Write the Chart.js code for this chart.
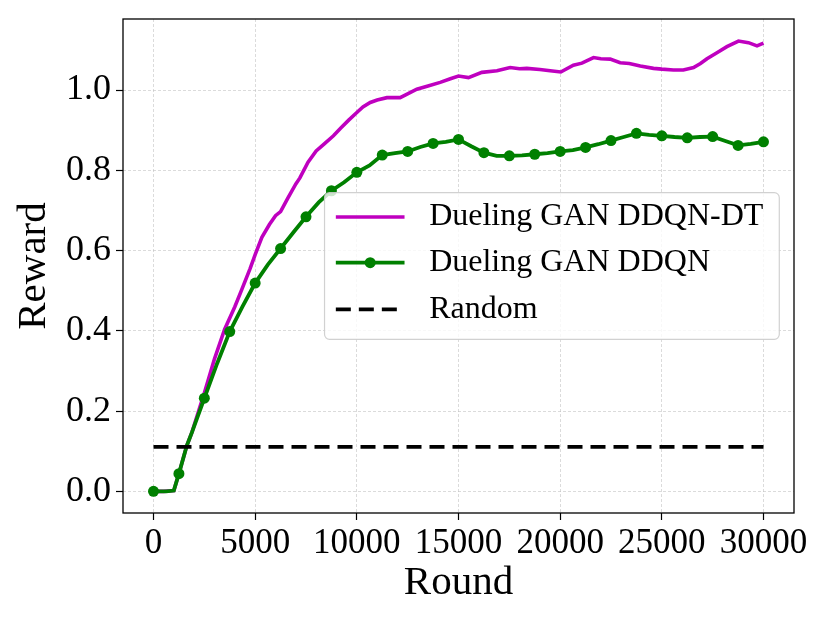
<!DOCTYPE html>
<html>
<head>
<meta charset="utf-8">
<script src="https://cdn.jsdelivr.net/npm/chart.js@4/dist/chart.umd.min.js"></script>
<style>
  html, body { margin: 0; padding: 0; background: #ffffff; }
  #wrap { width: 830px; height: 623px; }
</style>
</head>
<body>
<div id="wrap"><canvas id="rewardChart" width="830" height="623"></canvas></div>
<script>
// tick values
const xTicks = [0, 5000, 10000, 15000, 20000, 25000, 30000];
const yTicks = [0.0, 0.2, 0.4, 0.6, 0.8, 1.0];

// Dueling GAN DDQN-DT
const dtRounds = [0, 500, 1000, 1250, 1640, 1890, 2250, 2500, 3000, 3500, 4000, 4350, 4750, 5000,
    5330, 5700, 6000, 6250, 6600, 7000, 7200, 7600, 8000, 8400, 8850, 9200, 9600, 10000,
    10300, 10660, 11000, 11480, 12130, 12400, 12950, 13500, 14100, 14600, 15000, 15490,
    16150, 16890, 17540, 18000, 18360, 19000, 19510, 20030, 20650, 21070, 21640, 22000,
    22460, 22950, 23400, 23940, 24590, 25000, 25570, 26060, 26560, 26900, 27220, 27710,
    28200, 28770, 29260, 29680, 30000];
const dtReward = [0.0, 0.0, 0.002, 0.044, 0.114, 0.147, 0.205, 0.245, 0.33, 0.404, 0.46, 0.504, 0.555, 0.59,
    0.633, 0.665, 0.687, 0.697, 0.73, 0.766, 0.781, 0.82, 0.848, 0.866, 0.886, 0.905, 0.925, 0.944,
    0.958, 0.969, 0.975, 0.981, 0.981, 0.988, 1.002, 1.010, 1.019, 1.028, 1.035, 1.031,
    1.044, 1.048, 1.056, 1.053, 1.054, 1.051, 1.048, 1.045, 1.062, 1.067, 1.081, 1.078,
    1.077, 1.068, 1.066, 1.060, 1.054, 1.052, 1.050, 1.050, 1.056, 1.066, 1.078, 1.093,
    1.108, 1.122, 1.118, 1.110, 1.117];

// Dueling GAN DDQN (markers every 1250 rounds)
const ddqnRounds = [0, 625, 1000, 1250, 1640, 1890, 2500, 3125, 3750, 4375, 5000, 5625, 6250, 6875,
    7500, 8125, 8750, 9375, 10000, 10625, 11250, 11875, 12500, 13125, 13750, 14375, 15000,
    15625, 16250, 16875, 17500, 18125, 18750, 19375, 20000, 20625, 21250, 21875, 22500,
    23125, 23750, 24375, 25000, 25625, 26250, 26875, 27500, 28125, 28750, 29375, 30000];
const ddqnReward = [0.0, 0.0, 0.002, 0.044, 0.114, 0.147, 0.232, 0.318, 0.398, 0.460, 0.519, 0.565, 0.605, 0.645,
    0.684, 0.72, 0.749, 0.77, 0.795, 0.812, 0.838, 0.843, 0.847, 0.858, 0.867, 0.871, 0.877,
    0.86, 0.844, 0.836, 0.836, 0.837, 0.840, 0.843, 0.847, 0.85, 0.857, 0.865, 0.874,
    0.883, 0.892, 0.888, 0.886, 0.883, 0.881, 0.883, 0.884, 0.873, 0.862, 0.866, 0.871];
const markerEvery = 1250;

// Random baseline
const randomRounds = [0, 30000];
const randomReward = [0.111, 0.111];

const seriesNames = ['Dueling GAN DDQN-DT', 'Dueling GAN DDQN', 'Random'];

const FONT = "'Liberation Serif', 'DejaVu Serif', serif";

function toPoints(xs, ys) {
    return xs.map((x, i) => ({ x: x, y: ys[i] }));
}

// frame + matplotlib-style legend
const frameLegend = {
    id: 'frameLegend',
    afterDatasetsDraw(chart) {
        const ctx = chart.ctx;
        const area = chart.chartArea;
        ctx.save();
        ctx.strokeStyle = '#000';
        ctx.lineWidth = 1.3;
        ctx.strokeRect(area.left, area.top, area.right - area.left, area.bottom - area.top);

        ctx.font = '32px ' + FONT;
        const textW = Math.max(...seriesNames.map(n => ctx.measureText(n).width));
        const w = 104.6 + textW + 16;
        const h = 146.7;
        const right = area.right - 14.7;
        const left = right - w;
        const top = (area.top + area.bottom) / 2 - h / 2;

        ctx.beginPath();
        ctx.roundRect(left, top, w, h, 5);
        ctx.fillStyle = 'rgba(255,255,255,0.8)';
        ctx.fill();
        ctx.strokeStyle = 'rgba(204,204,204,0.9)';
        ctx.lineWidth = 1.2;
        ctx.stroke();

        const rowY = [top + 24.4, top + 70, top + 116.7];
        const hx1 = left + 11.3, hx2 = left + 80;
        chart.data.datasets.forEach((ds, i) => {
            const y = rowY[i];
            ctx.beginPath();
            ctx.setLineDash(ds.borderDash || []);
            ctx.strokeStyle = ds.borderColor;
            ctx.lineWidth = ds.borderWidth;
            ctx.moveTo(hx1, y);
            ctx.lineTo(hx2, y);
            ctx.stroke();
            ctx.setLineDash([]);
            if (i === 1) {
                ctx.beginPath();
                ctx.fillStyle = ds.borderColor;
                ctx.arc((hx1 + hx2) / 2, y, 5.5, 0, Math.PI * 2);
                ctx.fill();
            }
            ctx.fillStyle = '#000';
            ctx.textBaseline = 'middle';
            ctx.textAlign = 'left';
            ctx.fillText(ds.label, left + 104.6, y);
        });
        ctx.restore();
    }
};

new Chart(document.getElementById('rewardChart'), {
    type: 'line',
    data: {
        datasets: [{
            label: seriesNames[0],
            data: toPoints(dtRounds, dtReward),
            borderColor: '#bf00bf',
            borderWidth: 3.6,
            pointRadius: 0,
            tension: 0,
            order: 3
        }, {
            label: seriesNames[1],
            data: toPoints(ddqnRounds, ddqnReward),
            borderColor: '#008000',
            backgroundColor: '#008000',
            borderWidth: 3.8,
            pointRadius: c => (c.raw && c.raw.x % markerEvery === 0 ? 5.5 : 0),
            pointBorderWidth: 0,
            tension: 0,
            order: 2
        }, {
            label: seriesNames[2],
            data: toPoints(randomRounds, randomReward),
            borderColor: '#000000',
            borderWidth: 3.8,
            borderDash: [15, 8],
            pointRadius: 0,
            order: 1
        }]
    },
    options: {
        responsive: false,
        animation: false,
        events: [],
        layout: { padding: { top: 19, right: 36, left: 0, bottom: 0 } },
        plugins: {
            legend: { display: false },
            tooltip: { enabled: false }
        },
        scales: {
            x: {
                type: 'linear',
                min: -1500,
                max: 31500,
                afterBuildTicks: s => { s.ticks = xTicks.map(v => ({ value: v })); },
                afterFit: s => { s.height = 110; s.paddingLeft = 0; s.paddingRight = 0; },
                grid: {
                    color: 'rgba(190,190,190,0.7)',
                    lineWidth: 0.8,
                    tickColor: '#000',
                    tickLength: 7,
                    tickWidth: 1.2,
                    tickBorderDash: []
                },
                border: { display: false, dash: [3, 2] },
                ticks: {
                    color: '#000',
                    font: { family: FONT, size: 35 },
                    padding: 3,
                    maxRotation: 0,
                    autoSkip: false,
                    callback: v => String(v)
                },
                title: {
                    display: true,
                    text: 'Round',
                    color: '#000',
                    font: { family: FONT, size: 41 },
                    padding: { top: 0, bottom: 15 }
                }
            },
            y: {
                min: -0.054,
                max: 1.177,
                afterBuildTicks: s => { s.ticks = yTicks.map(v => ({ value: v })); },
                afterFit: s => { s.width = 123; s.paddingTop = 0; s.paddingBottom = 0; },
                grid: {
                    color: 'rgba(190,190,190,0.7)',
                    lineWidth: 0.8,
                    tickColor: '#000',
                    tickLength: 7,
                    tickWidth: 1.2,
                    tickBorderDash: []
                },
                border: { display: false, dash: [3, 2] },
                ticks: {
                    color: '#000',
                    font: { family: FONT, size: 36 },
                    padding: 5,
                    callback: v => v.toFixed(1)
                },
                title: {
                    display: true,
                    text: 'Reward',
                    color: '#000',
                    font: { family: FONT, size: 41 },
                    padding: { top: 10, bottom: 0 }
                }
            }
        }
    },
    plugins: [frameLegend]
});
</script>
</body>
</html>
